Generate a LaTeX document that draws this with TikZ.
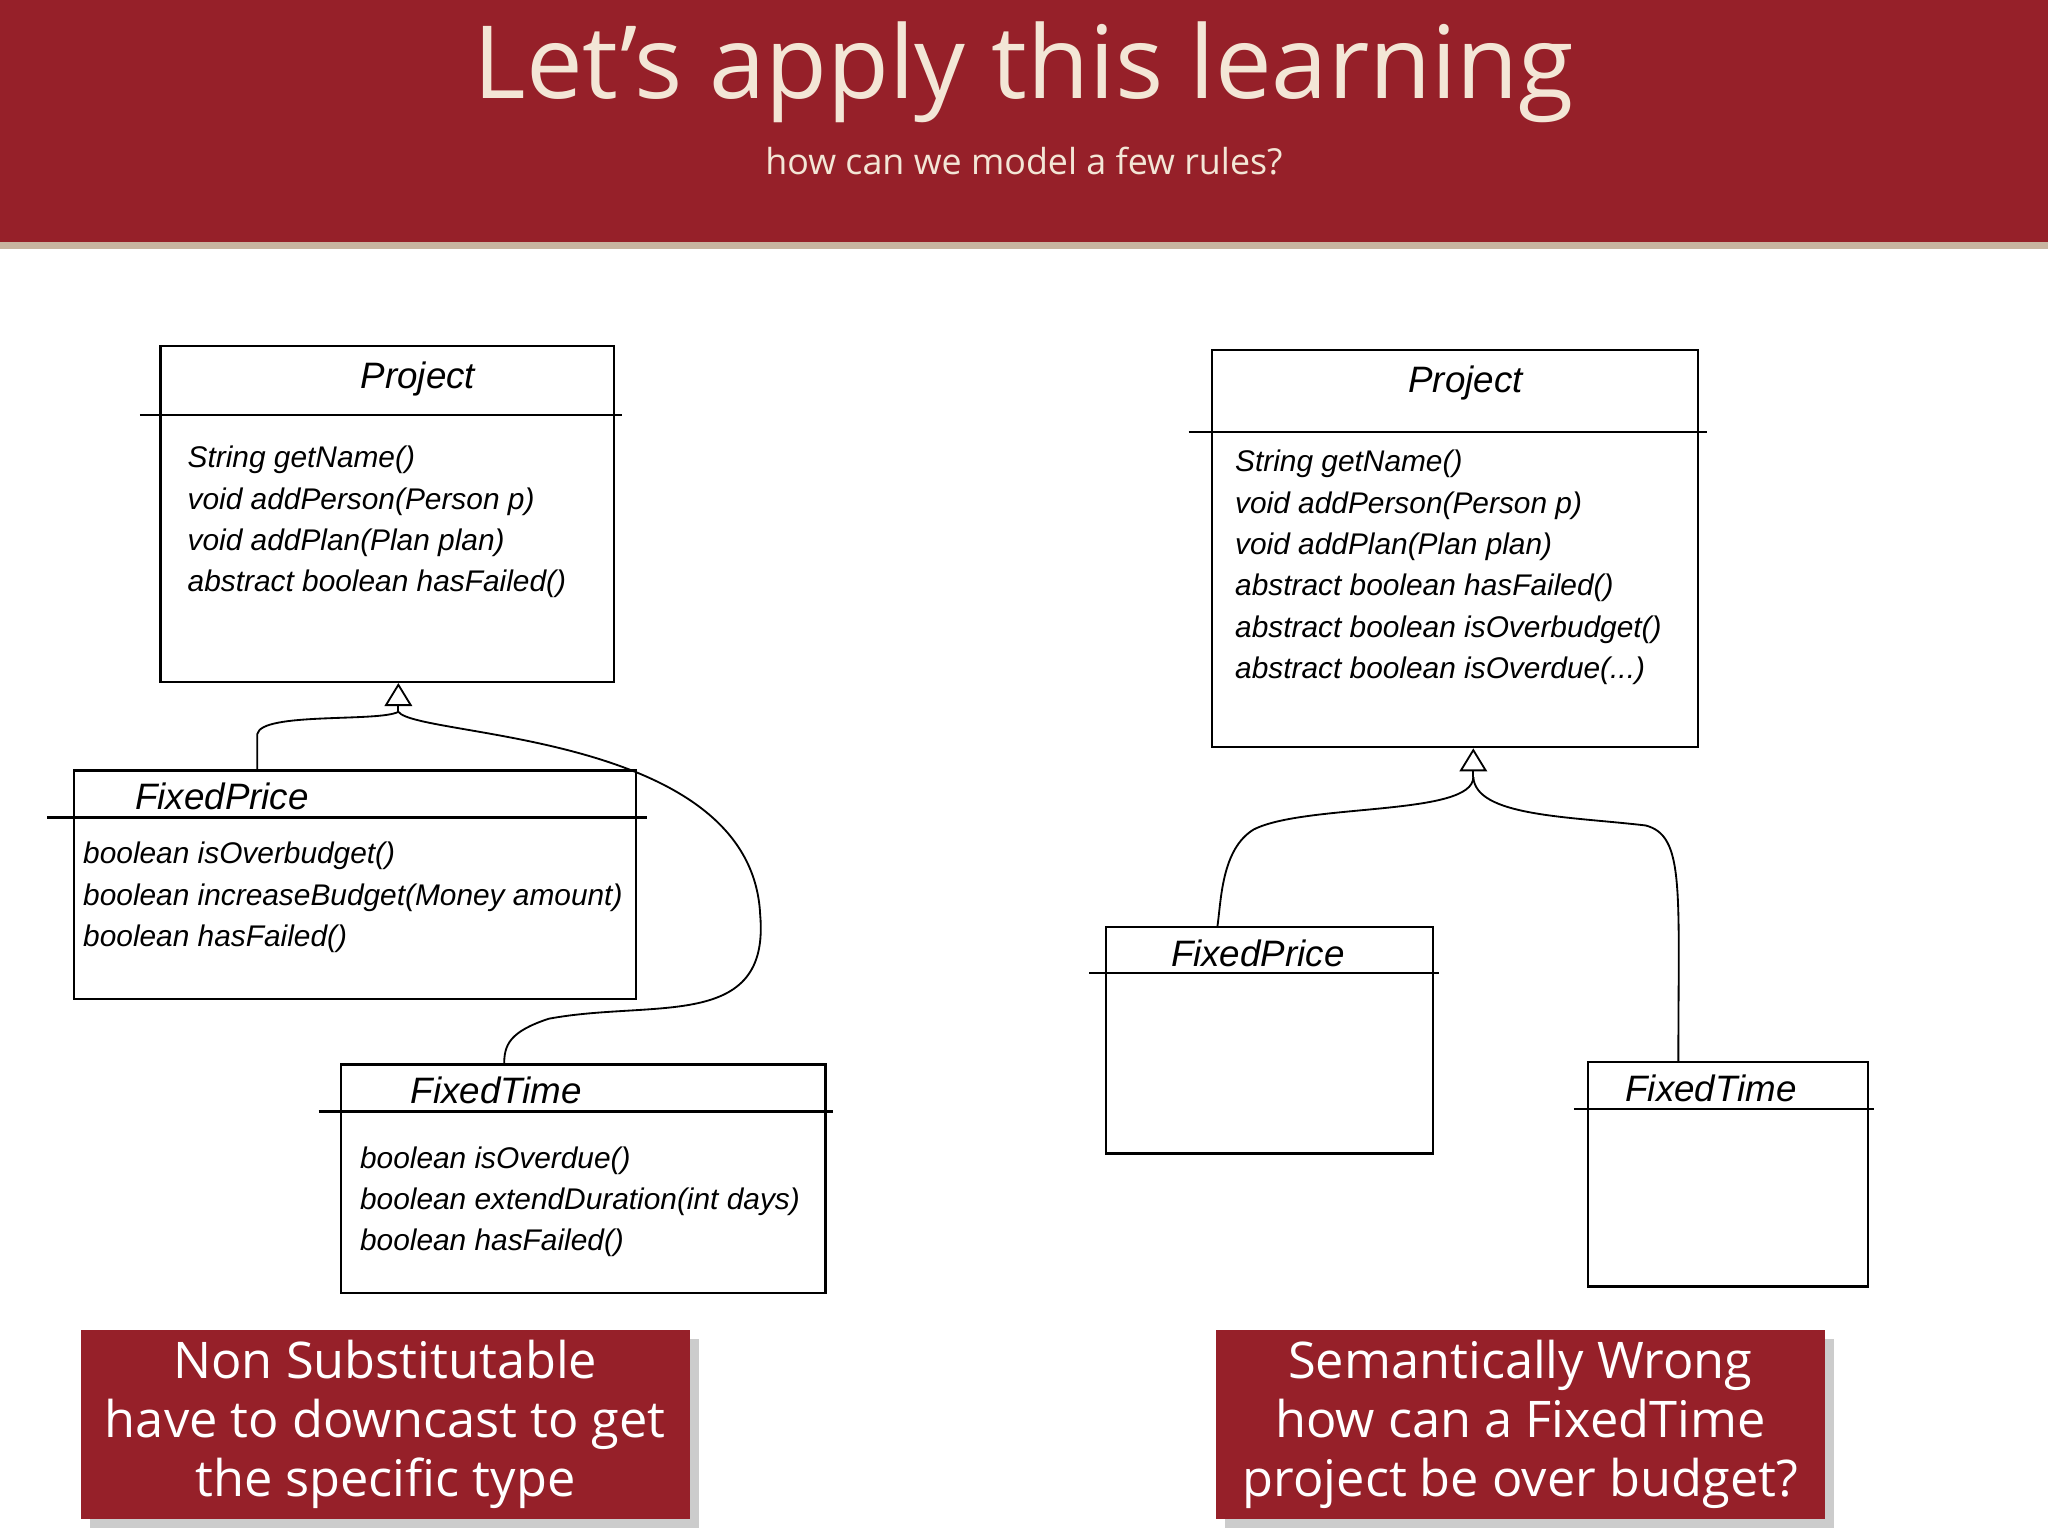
\documentclass[tikz,border=0pt]{standalone}
\usepackage{fontspec}
\setmainfont{Open Sans}
\newfontfamily\hand{Liberation Sans}
\usetikzlibrary{arrows.meta,shadows}
\definecolor{band}{HTML}{962029}
\definecolor{cream}{HTML}{F3E6D6}
\definecolor{tan}{HTML}{C8B4A0}
\tikzset{
 umlbox/.style={draw,line width=0.5pt,rectangle,inner sep=0pt},
 div/.style={line width=0.5pt},
 ttl/.style={font=\hand\itshape\fontsize{8}{9}\selectfont},
 meth/.style={font=\hand\itshape\fontsize{6.5}{9}\selectfont,align=left,anchor=north west,inner sep=0pt},
 conn/.style={line width=0.4pt},
 inh/.style={conn,-{Triangle[open,length=5pt,width=6pt]}},
 callout/.style={fill=band,text=white,inner sep=0pt,align=center,font=\fontsize{11}{12.8}\selectfont,drop shadow={opacity=0.4,shadow xshift=2pt,shadow yshift=-2pt}}
}
\begin{document}
\begin{tikzpicture}[x=0.01cm,y=-0.01cm]
\useasboundingbox (0,0) rectangle (1568,1176);
\fill[white] (0,0) rectangle (1568,1176);
\fill[band] (0,0) rectangle (1568,185);
\fill[tan] (0,185) rectangle (1568,191);
\node[text=cream,font=\fontsize{22}{26}\selectfont] (title) at (784,55) {Let’s apply this learning};
\node[text=cream,font=\fontsize{7.8}{9}\selectfont] (sub) at (784,123) {how can we model a few rules?};

% left Project
\node[umlbox,minimum width=3.47cm,minimum height=2.57cm] (lp) at (296.5,393.5) {};
\draw[div] (107,318) -- (476,318);
\node[ttl] (lpt) at (320,290) {Project};
\node[meth] (lpm) at (143,341) {String getName()\\void addPerson(Person p)\\void addPlan(Plan plan)\\abstract boolean hasFailed()};

% left FixedPrice
\node[umlbox,minimum width=4.30cm,minimum height=1.75cm] (lfp) at (272,677.5) {};
\draw[div] (36,626) -- (495,626);
\node[ttl] (lfpt) at (170,610) {FixedPrice};
\node[meth] (lfpm) at (63,644) {boolean isOverbudget()\\boolean increaseBudget(Money amount)\\boolean hasFailed()};

% left FixedTime
\node[umlbox,minimum width=3.71cm,minimum height=1.75cm] (lft) at (446.5,902.5) {};
\draw[div] (244,851) -- (638,851);
\node[ttl] (lftt) at (380,835) {FixedTime};
\node[meth] (lftm) at (275,877) {boolean isOverdue()\\boolean extendDuration(int days)\\boolean hasFailed()};

\coordinate (lj) at (305,545);
\draw[inh] (lj) -- (lp.south -| lj);
\draw[conn] (lj) .. controls (290,553) and (200,545) .. (197,562) -- (197,590);
\draw[conn] (lj) .. controls (320,565) and (575,560) .. (582,700) .. controls (590,790) and (500,765) .. (420,780) .. controls (390,790) and (386,800) .. (386,815);

% right Project
\node[umlbox,minimum width=3.72cm,minimum height=3.04cm] (rp) at (1114,420) {};
\draw[div] (910,331) -- (1307,331);
\node[ttl] (rpt) at (1122,293) {Project};
\node[meth] (rpm) at (945,344) {String getName()\\void addPerson(Person p)\\void addPlan(Plan plan)\\abstract boolean hasFailed()\\abstract boolean isOverbudget()\\abstract boolean isOverdue(...)};

% right FixedPrice
\node[umlbox,minimum width=2.50cm,minimum height=1.73cm] (rfp) at (972,796.5) {};
\draw[div] (834,745) -- (1102,745);
\node[ttl] (rfpt) at (963,730) {FixedPrice};

% right FixedTime
\node[umlbox,minimum width=2.14cm,minimum height=1.72cm] (rft) at (1323,899) {};
\draw[div] (1205,849) -- (1435,849);
\node[ttl] (rftt) at (1310,833) {FixedTime};

\coordinate (rj) at (1128,595);
\draw[inh] (rj) -- (rp.south -| rj);
\draw[conn] (rj) .. controls (1128,625) and (1000,615) .. (960,635) .. controls (935,650) and (935,690) .. (932,710);
\draw[conn] (rj) .. controls (1130,625) and (1200,625) .. (1260,632) .. controls (1290,640) and (1285,680) .. (1285,813);

% callouts
\node[callout,minimum width=4.66cm,minimum height=1.45cm] (lc) at (295,1090.5) {Non Substitutable\\have to downcast to get\\the specific type};
\node[callout,minimum width=4.66cm,minimum height=1.45cm] (rc) at (1164,1090.5) {Semantically Wrong\\how can a FixedTime\\project be over budget?};
\end{tikzpicture}
\end{document}
